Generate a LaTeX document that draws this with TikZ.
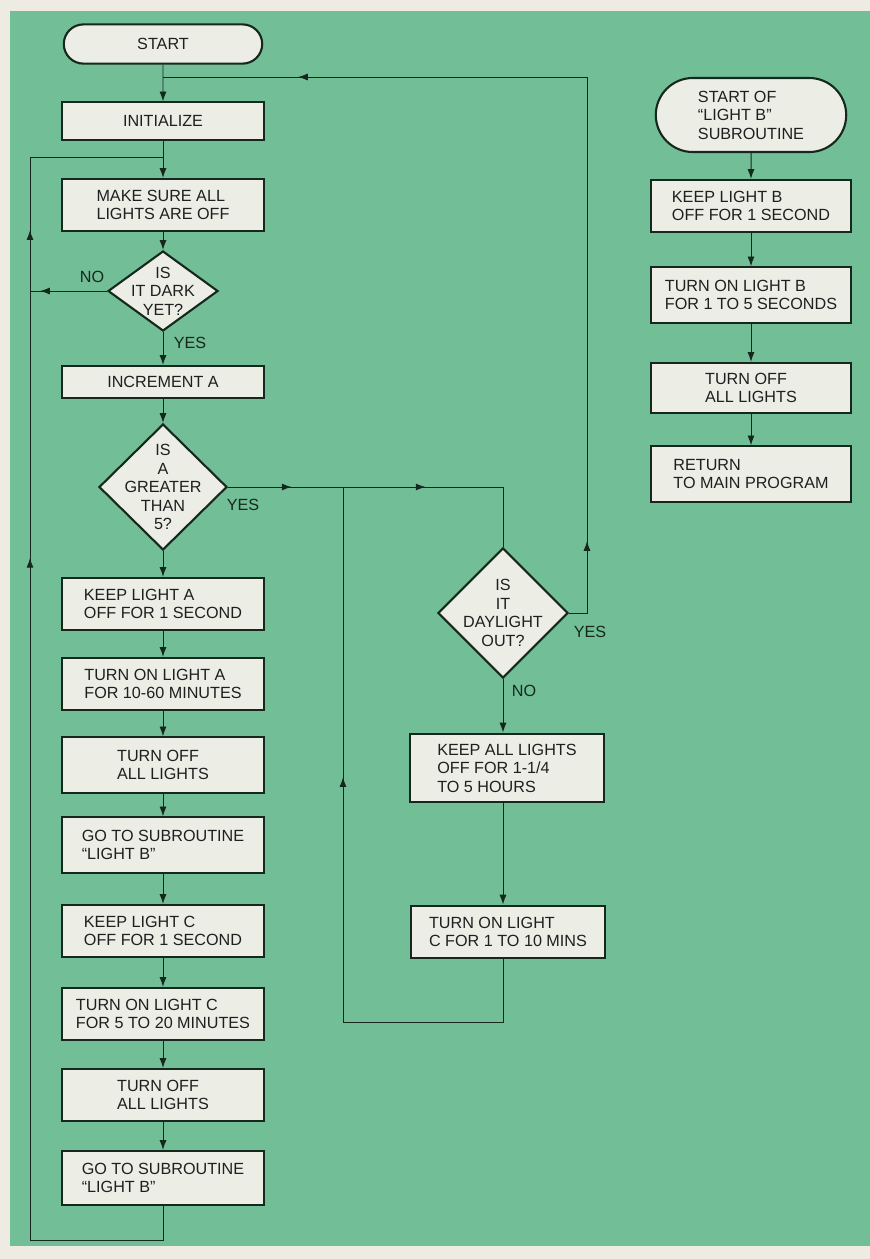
\documentclass[tikz,border=0pt]{standalone}
\usepackage{fontspec}
\setmainfont{Liberation Sans}
\usetikzlibrary{arrows.meta, shapes.geometric, shapes.misc, decorations.markings}
\definecolor{panelgreen}{RGB}{114,190,150}
\definecolor{papercream}{RGB}{238,236,226}
\definecolor{boxwhite}{RGB}{236,237,229}
\definecolor{inkgreen}{RGB}{22,40,30}
\tikzset{
	box/.style={rectangle, draw=inkgreen, line width=1.5pt, fill=boxwhite, text=black!88,
		minimum width=5.05cm, minimum height=1.3cm, align=left, inner sep=2pt},
	term/.style={box, rounded rectangle},
	decision/.style={diamond, draw=inkgreen, line width=1.5pt, fill=boxwhite, inner sep=0pt},
	line/.style={draw=inkgreen, line width=0.7pt, -{Latex[length=7pt,width=5pt]}},
	link/.style={draw=inkgreen, line width=0.7pt},
	flow at/.style={postaction={decorate, decoration={markings,
		mark=at position #1 with {\arrow{Latex[length=7pt,width=5pt]}}}}},
	answer/.style={text=inkgreen}
}

\begin{document}
\begin{tikzpicture}[x=0.025cm, y=-0.025cm, font=\fontsize{11.5}{13.2}\selectfont]
	\useasboundingbox (0,0) rectangle (870,1259);
	\fill[papercream] (0,0) rectangle (870,1259);
	\fill[panelgreen] (10,11) rectangle (870,1246);

	% main program
	\node[term, minimum width=5.1cm, minimum height=0.98cm] (start) at (163,44) {START};
	\node[box, minimum height=0.93cm] (init) at (163,121) {INITIALIZE};
	\node[box] (sure) at (163,205) {MAKE SURE ALL\\LIGHTS ARE OFF};
	\node[decision, minimum width=2.75cm, minimum height=2cm,
		label={[align=center, text=black!88]center:IS\\IT DARK\\YET?}] (dark) at (163,291) {};
	\node[box, minimum height=0.8cm] (incr) at (163,382) {INCREMENT A};
	\node[decision, minimum width=3.2cm, minimum height=3.15cm,
		label={[align=center, text=black!88]center:IS\\A\\GREATER\\THAN\\5?}] (great) at (163,487) {};
	\node[box] (keepa) at (163,604) {KEEP LIGHT A\\OFF FOR 1 SECOND};
	\node[box] (ona) at (163,684) {TURN ON LIGHT A\\FOR 10-60 MINUTES};
	\node[box, minimum height=1.38cm] (offa) at (163,765) {TURN OFF\\ALL LIGHTS};
	\node[box, minimum height=1.38cm] (gosuba) at (163,845) {GO TO SUBROUTINE\\``LIGHT B''};
	\node[box] (keepc) at (163,931) {KEEP LIGHT C\\OFF FOR 1 SECOND};
	\node[box] (onc) at (163,1014) {TURN ON LIGHT C\\FOR 5 TO 20 MINUTES};
	\node[box] (offc) at (163,1095) {TURN OFF\\ALL LIGHTS};
	\node[box, minimum height=1.35cm] (gosubc) at (163,1178) {GO TO SUBROUTINE\\``LIGHT B''};

	% daylight branch
	\node[decision, minimum width=3.25cm, minimum height=3.25cm,
		label={[align=center, text=black!88]center:IS\\IT\\DAYLIGHT\\OUT?}] (day) at (503,613) {};
	\node[box, minimum width=4.85cm, minimum height=1.72cm] (keepall) at (507,768) {KEEP ALL LIGHTS\\OFF FOR 1-1/4\\TO 5 HOURS};
	\node[box, minimum width=4.85cm, minimum height=1.32cm] (onc2) at (508,932) {TURN ON LIGHT\\C FOR 1 TO 10 MINS};

	% subroutine
	\node[term, minimum width=4.9cm, minimum height=1.85cm] (subst) at (751,115) {START OF\\``LIGHT B''\\SUBROUTINE};
	\node[box, minimum width=5cm] (keepb) at (751,206) {KEEP LIGHT B\\OFF FOR 1 SECOND};
	\node[box, minimum width=5cm, minimum height=1.38cm] (onb) at (751,295) {TURN ON LIGHT B\\FOR 1 TO 5 SECONDS};
	\node[box, minimum width=5cm, minimum height=1.25cm] (offb) at (751,388) {TURN OFF\\ALL LIGHTS};
	\node[box, minimum width=5cm, minimum height=1.38cm] (ret) at (751,474) {RETURN\\TO MAIN  PROGRAM};

	\coordinate (toploop) at (163,77);
	\coordinate (leftloop) at (163,157);
	\coordinate (lcorner) at (30,1240);
	\coordinate (dayturn) at (587,77);
	\coordinate (mcorner) at (343,1022);
	\coordinate (mjoin) at (343,487);

	\draw[line] (start) -- (init);
	\draw[line] (init) -- (sure);
	\draw[line] (sure) -- (dark);
	\draw[line] (dark) -- (incr);
	\draw[line] (incr) -- (great);
	\draw[line] (great) -- (keepa);
	\draw[line] (keepa) -- (ona);
	\draw[line] (ona) -- (offa);
	\draw[line] (offa) -- (gosuba);
	\draw[line] (gosuba) -- (keepc);
	\draw[line] (keepc) -- (onc);
	\draw[line] (onc) -- (offc);
	\draw[line] (offc) -- (gosubc);

	% loops back to the top
	\draw[link, flow at=0.614, flow at=0.851] (gosubc) |- (lcorner) |- (leftloop);
	\draw[link, flow at=0.87] (dark.west) -- (dark.west -| lcorner);
	\draw[link, flow at=0.19, flow at=0.59] (great.east) -| (day.north);
	\draw[link, flow at=0.092, flow at=0.862] (day.east) -| (dayturn) -- (toploop);
	\draw[line] (day.south) -- (day.south |- keepall.north);
	\draw[line] (day.south |- keepall.south) -- (day.south |- onc2.north);
	\draw[link, flow at=0.617] (day.south |- onc2.south) |- (mcorner) -- (mjoin);

	\draw[line] (subst) -- (keepb);
	\draw[line] (keepb) -- (onb);
	\draw[line] (onb) -- (offb);
	\draw[line] (offb) -- (ret);

	\node[answer] (darkno) at (92,277) {NO};
	\node[answer] (darkyes) at (190,343) {YES};
	\node[answer] (greatyes) at (243,505) {YES};
	\node[answer] (dayyes) at (590,632) {YES};
	\node[answer] (dayno) at (524,691) {NO};
\end{tikzpicture}
\end{document}
